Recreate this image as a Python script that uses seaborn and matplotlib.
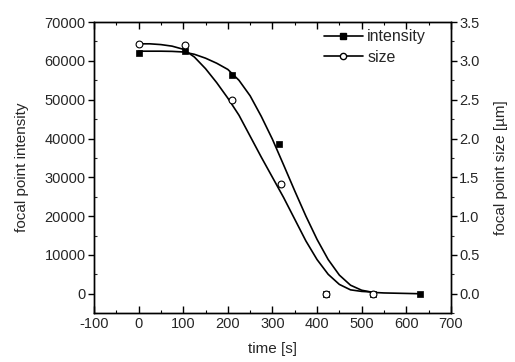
import matplotlib
matplotlib.use("Agg")
import matplotlib.pyplot as plt
from matplotlib.lines import Line2D
from matplotlib.ticker import MultipleLocator
import seaborn as sns
import pandas as pd

# measured points
time_pts = [0, 105, 210, 315, 420, 525, 630]
intensity_pts = [62000, 62500, 56400, 38500, 0, 0, 0]
size_time = [0, 105, 210, 320, 420, 525]
size_pts = [3.22, 3.20, 2.50, 1.41, 0.0, 0.0]

# fitted curves
curve_t_int = [0, 25, 50, 75, 100, 125, 150, 175, 200, 225, 250, 275, 300, 325, 350,
               375, 400, 425, 450, 475, 500, 525, 550, 630]
curve_int = [62500, 62500, 62500, 62450, 62300, 61700, 60700, 59400, 57800, 55000,
             51000, 45700, 39800, 33200, 26500, 20000, 14000, 8800, 4800, 2200,
             900, 350, 200, 0]
curve_t_size = [0, 25, 50, 75, 100, 125, 150, 175, 200, 225, 250, 275, 300, 325, 350,
                375, 400, 425, 450, 475, 500, 530]
curve_size = [3.22, 3.22, 3.21, 3.19, 3.15, 3.05, 2.90, 2.72, 2.52, 2.30, 2.03, 1.76,
              1.50, 1.24, 0.96, 0.68, 0.44, 0.25, 0.12, 0.05, 0.03, 0.02]

sns.set_theme(style="ticks")
plt.rcParams["font.family"] = ["Liberation Sans", "DejaVu Sans"]
plt.rcParams["axes.unicode_minus"] = False

fig = plt.figure(figsize=(5.15, 3.62), dpi=100)
ax = fig.add_axes([0.1825, 0.135, 0.693, 0.804])
ax2 = ax.twinx()

df_ci = pd.DataFrame({"t": curve_t_int, "v": curve_int})
df_cs = pd.DataFrame({"t": curve_t_size, "v": curve_size})
df_pi = pd.DataFrame({"t": time_pts, "v": intensity_pts})
df_ps = pd.DataFrame({"t": size_time, "v": size_pts})

sns.lineplot(data=df_ci, x="t", y="v", ax=ax, color="black", lw=1.2, sort=False)
sns.scatterplot(data=df_pi, x="t", y="v", ax=ax, marker="s", color="black", s=22,
                edgecolor="black", linewidth=0.5, zorder=3)
sns.lineplot(data=df_cs, x="t", y="v", ax=ax2, color="black", lw=1.2, sort=False)
sns.scatterplot(data=df_ps, x="t", y="v", ax=ax2, marker="o", color="white", s=24,
                edgecolor="black", linewidth=0.8, zorder=4)

ax.set_xlim(-100, 700)
ax.set_ylim(-5000, 70000)
ax2.set_ylim(-0.25, 3.5)

ax.xaxis.set_major_locator(MultipleLocator(100))
ax.xaxis.set_minor_locator(MultipleLocator(50))
ax.yaxis.set_major_locator(MultipleLocator(10000))
ax.yaxis.set_minor_locator(MultipleLocator(5000))
ax2.yaxis.set_major_locator(MultipleLocator(0.5))
ax2.yaxis.set_minor_locator(MultipleLocator(0.25))

ax.set_xlabel("time [s]", fontsize=11, labelpad=8)
ax.set_ylabel("focal point intensity", fontsize=11, labelpad=11)
ax2.set_ylabel("focal point size [µm]", fontsize=11, labelpad=10)

for a in (ax, ax2):
    for sp in a.spines.values():
        sp.set_linewidth(1.0)
        sp.set_color("black")

ax.tick_params(axis="x", which="both", direction="in", top=True, bottom=True,
               labelsize=10.5, pad=3, color="black")
ax.tick_params(axis="x", which="major", length=5, width=1)
ax.tick_params(axis="x", which="minor", length=2.5, width=0.8)
ax.tick_params(axis="y", which="major", direction="out", length=4, width=1,
               labelsize=10.5, pad=2, color="black")
ax.tick_params(axis="y", which="minor", direction="in", length=2.5, width=0.8)
ax2.tick_params(axis="y", which="major", direction="out", length=4, width=1,
                labelsize=10.5, pad=2, color="black")
ax2.tick_params(axis="y", which="minor", direction="out", length=2.5, width=0.8)

handles = [
    Line2D([], [], color="black", lw=1.2, marker="s", markersize=4.5, markerfacecolor="black"),
    Line2D([], [], color="black", lw=1.2, marker="o", markersize=4.5, markerfacecolor="white"),
]
ax.legend(handles, ["intensity", "size"], loc="upper left", frameon=False,
          fontsize=11.5, handlelength=2.4, handletextpad=0.3, labelspacing=0.35,
          bbox_to_anchor=(0.645, 0.975), borderaxespad=0, borderpad=0)

fig.savefig("out.png", dpi=100)
